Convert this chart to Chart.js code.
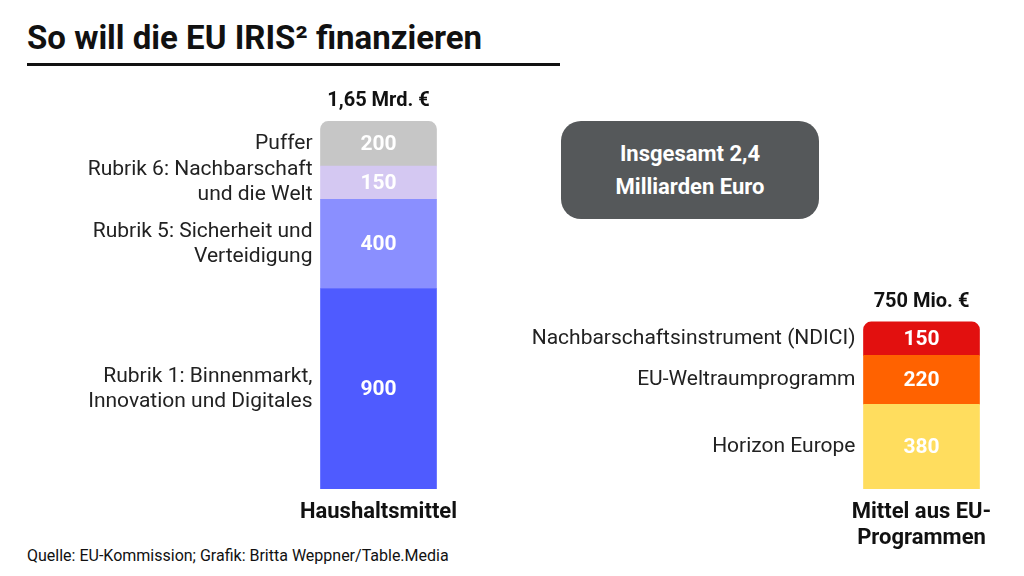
<!DOCTYPE html>
<html><head><meta charset="utf-8">
<script src="https://cdn.jsdelivr.net/npm/chart.js@4"></script>
<style>
body{margin:0;width:1024px;height:576px;background:#fff;font-family:Roboto,sans-serif;position:relative;overflow:hidden}
#t{position:absolute;left:27px;top:18px;font-size:33px;font-weight:700;color:#111;padding-bottom:6px;border-bottom:3px solid #111;width:533px}
#box{position:absolute;left:561px;top:121px;width:258px;height:98px;background:#55585a;border-radius:20px;color:#fff;font-weight:700;font-size:22px;text-align:center;line-height:33px;display:flex;align-items:center;justify-content:center}
#src{position:absolute;left:27px;top:546px;font-size:16px;color:#111}
#c{position:absolute;left:0;top:0}
</style></head><body>
<div id="t">So will die EU IRIS² finanzieren</div>
<div id="box">Insgesamt 2,4<br>Milliarden Euro</div>
<div id="src">Quelle: EU-Kommission; Grafik: Britta Weppner/Table.Media</div>
<canvas id="c" width="1024" height="576"></canvas>
<script>
var categories = ["Haushaltsmittel", "", "", "Mittel aus EU-Programmen"];
var categoryLines = [["Haushaltsmittel"], [], [], ["Mittel aus EU-", "Programmen"]];
var totals = ["1,65 Mrd. €", "", "", "750 Mio. €"];
var leftNames = [["Rubrik 1: Binnenmarkt,", "Innovation und Digitales"], ["Rubrik 5: Sicherheit und", "Verteidigung"], ["Rubrik 6: Nachbarschaft", "und die Welt"], ["Puffer"]];
var leftValues = [900, 400, 150, 200];
var leftColors = ["#4f5bff", "#8a8fff", "#d4c8f2", "#c6c6c6"];
var rightNames = [["Horizon Europe"], ["EU-Weltraumprogramm"], ["Nachbarschaftsinstrument (NDICI)"]];
var rightValues = [380, 220, 150];
var rightColors = ["#ffdd5e", "#ff6200", "#e2100f"];

var datasets = [];
leftValues.forEach(function (v, i) {
  datasets.push({ label: leftNames[i].join(" "), names: leftNames[i], data: [v, null, null, null], backgroundColor: leftColors[i],
    borderRadius: i == leftValues.length - 1 ? { topLeft: 8, topRight: 8 } : 0, borderSkipped: false });
});
rightValues.forEach(function (v, i) {
  datasets.push({ label: rightNames[i].join(" "), names: rightNames[i], data: [null, null, null, v], backgroundColor: rightColors[i],
    borderRadius: i == rightValues.length - 1 ? { topLeft: 8, topRight: 8 } : 0, borderSkipped: false });
});

var labelPlugin = {
  id: "labels",
  afterDatasetsDraw: function (chart) {
    var ctx = chart.ctx;
    var tops = {};
    chart.data.datasets.forEach(function (ds, di) {
      chart.getDatasetMeta(di).data.forEach(function (bar, idx) {
        if (ds.data[idx] == null) return;
        var mid = (bar.y + bar.base) / 2;
        tops[idx] = Math.min(tops[idx] || 9999, bar.y);
        ctx.fillStyle = "#fff";
        ctx.font = "bold 21px Roboto";
        ctx.textAlign = "center";
        ctx.textBaseline = "middle";
        ctx.fillText(ds.data[idx], bar.x, mid + 1);
        ctx.fillStyle = "#222";
        ctx.font = "21px Roboto";
        ctx.textAlign = "right";
        var lh = 25, y0 = mid - (ds.names.length - 1) * lh / 2;
        ds.names.forEach(function (n, k) { ctx.fillText(n, bar.x - bar.width / 2 - 8, y0 + k * lh); });
      });
    });
    var xs = chart.scales.x;
    categories.forEach(function (c, i) {
      var x = xs.getPixelForValue(i);
      ctx.fillStyle = "#111";
      ctx.textAlign = "center";
      ctx.textBaseline = "middle";
      ctx.font = "bold 20px Roboto";
      if (totals[i]) ctx.fillText(totals[i], x, tops[i] - 20);
      ctx.font = "bold 22px Roboto";
      categoryLines[i].forEach(function (l, k) { ctx.fillText(l, x, 512 + k * 26); });
    });
  }
};

new Chart(document.getElementById("c"), {
  type: "bar",
  data: { labels: categories, datasets: datasets },
  options: {
    responsive: false, animation: false,
    layout: { padding: { left: 288, right: 12, top: 88, bottom: 87 } },
    datasets: { bar: { barThickness: 116 } },
    scales: {
      x: { display: false, stacked: true },
      y: { display: false, stacked: true, min: 0, max: 1800 }
    },
    plugins: { legend: { display: false }, tooltip: { enabled: false } }
  },
  plugins: [labelPlugin]
});
</script>
</body></html>
